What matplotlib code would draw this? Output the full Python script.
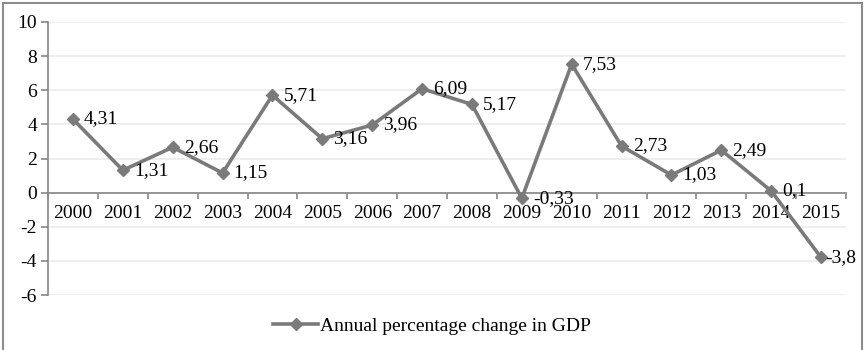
import matplotlib.pyplot as plt
from matplotlib.patches import Rectangle

years = [str(y) for y in range(2000, 2016)]
gdp_change = [4.31, 1.31, 2.66, 1.15, 5.71, 3.16, 3.96, 6.09,
              5.17, -0.33, 7.53, 2.73, 1.03, 2.49, 0.1, -3.8]
series_name = 'Annual percentage change in GDP'

plt.rcParams['font.family'] = ['Liberation Serif', 'DejaVu Serif']
plt.rcParams['font.size'] = 14

W, H = 865, 350
fig = plt.figure(figsize=(W / 100, H / 100), dpi=100)

# frame around the whole chart (bottom edge runs off the canvas)
fig.patches.append(Rectangle((3 / W, -0.05), 859 / W, 1.05 - 3 / H,
                             transform=fig.transFigure, fill=False,
                             edgecolor='#8c8c8c', linewidth=1.5))

ax = fig.add_axes([48 / W, 55 / H, 798 / W, 273 / H])
x = list(range(len(years)))

ax.set_ylim(-6, 10)
ax.set_xlim(-0.5, len(years) - 0.5)
ax.set_yticks(range(-6, 11, 2))
ax.yaxis.grid(True, color='#ebebeb', linewidth=1.2)
ax.set_axisbelow(True)

for side in ['top', 'right']:
    ax.spines[side].set_visible(False)
ax.spines['left'].set_color('#868686')
ax.spines['left'].set_linewidth(1.2)
ax.spines['bottom'].set_position(('data', 0))
ax.spines['bottom'].set_color('#868686')
ax.spines['bottom'].set_linewidth(1.2)

# boundary ticks on the zero axis, year labels at the category centres
ax.set_xticks([i - 0.5 for i in range(len(years) + 1)])
ax.set_xticklabels([])
ax.set_xticks(x, minor=True)
ax.set_xticklabels(years, minor=True)
ax.tick_params(axis='x', which='major', direction='out', length=4,
               color='#868686', width=1.2)
ax.tick_params(axis='x', which='minor', length=0, pad=9)
ax.tick_params(axis='y', direction='out', length=5, color='#868686',
               width=1.2, pad=3)
ax.set_yticklabels([str(v) for v in range(-6, 11, 2)])

ax.plot(x, gdp_change, color='#7a7a7a', linewidth=2.6, marker='D',
        markersize=6.5, label=series_name, clip_on=False, zorder=3)

for xi, v in zip(x, gdp_change):
    # last label is pulled in so it stays inside the frame
    dx = 3 if xi == x[-1] else 8
    ax.annotate(f'{v:g}'.replace('.', ','), (xi, v), xytext=(dx, 0),
                textcoords='offset points', va='center', ha='left')

fig.legend(loc='center', bbox_to_anchor=(432 / W, 1 - 326 / H),
           frameon=False, handlelength=2.3, handletextpad=0.1)

fig.savefig('out.png', dpi=100)
